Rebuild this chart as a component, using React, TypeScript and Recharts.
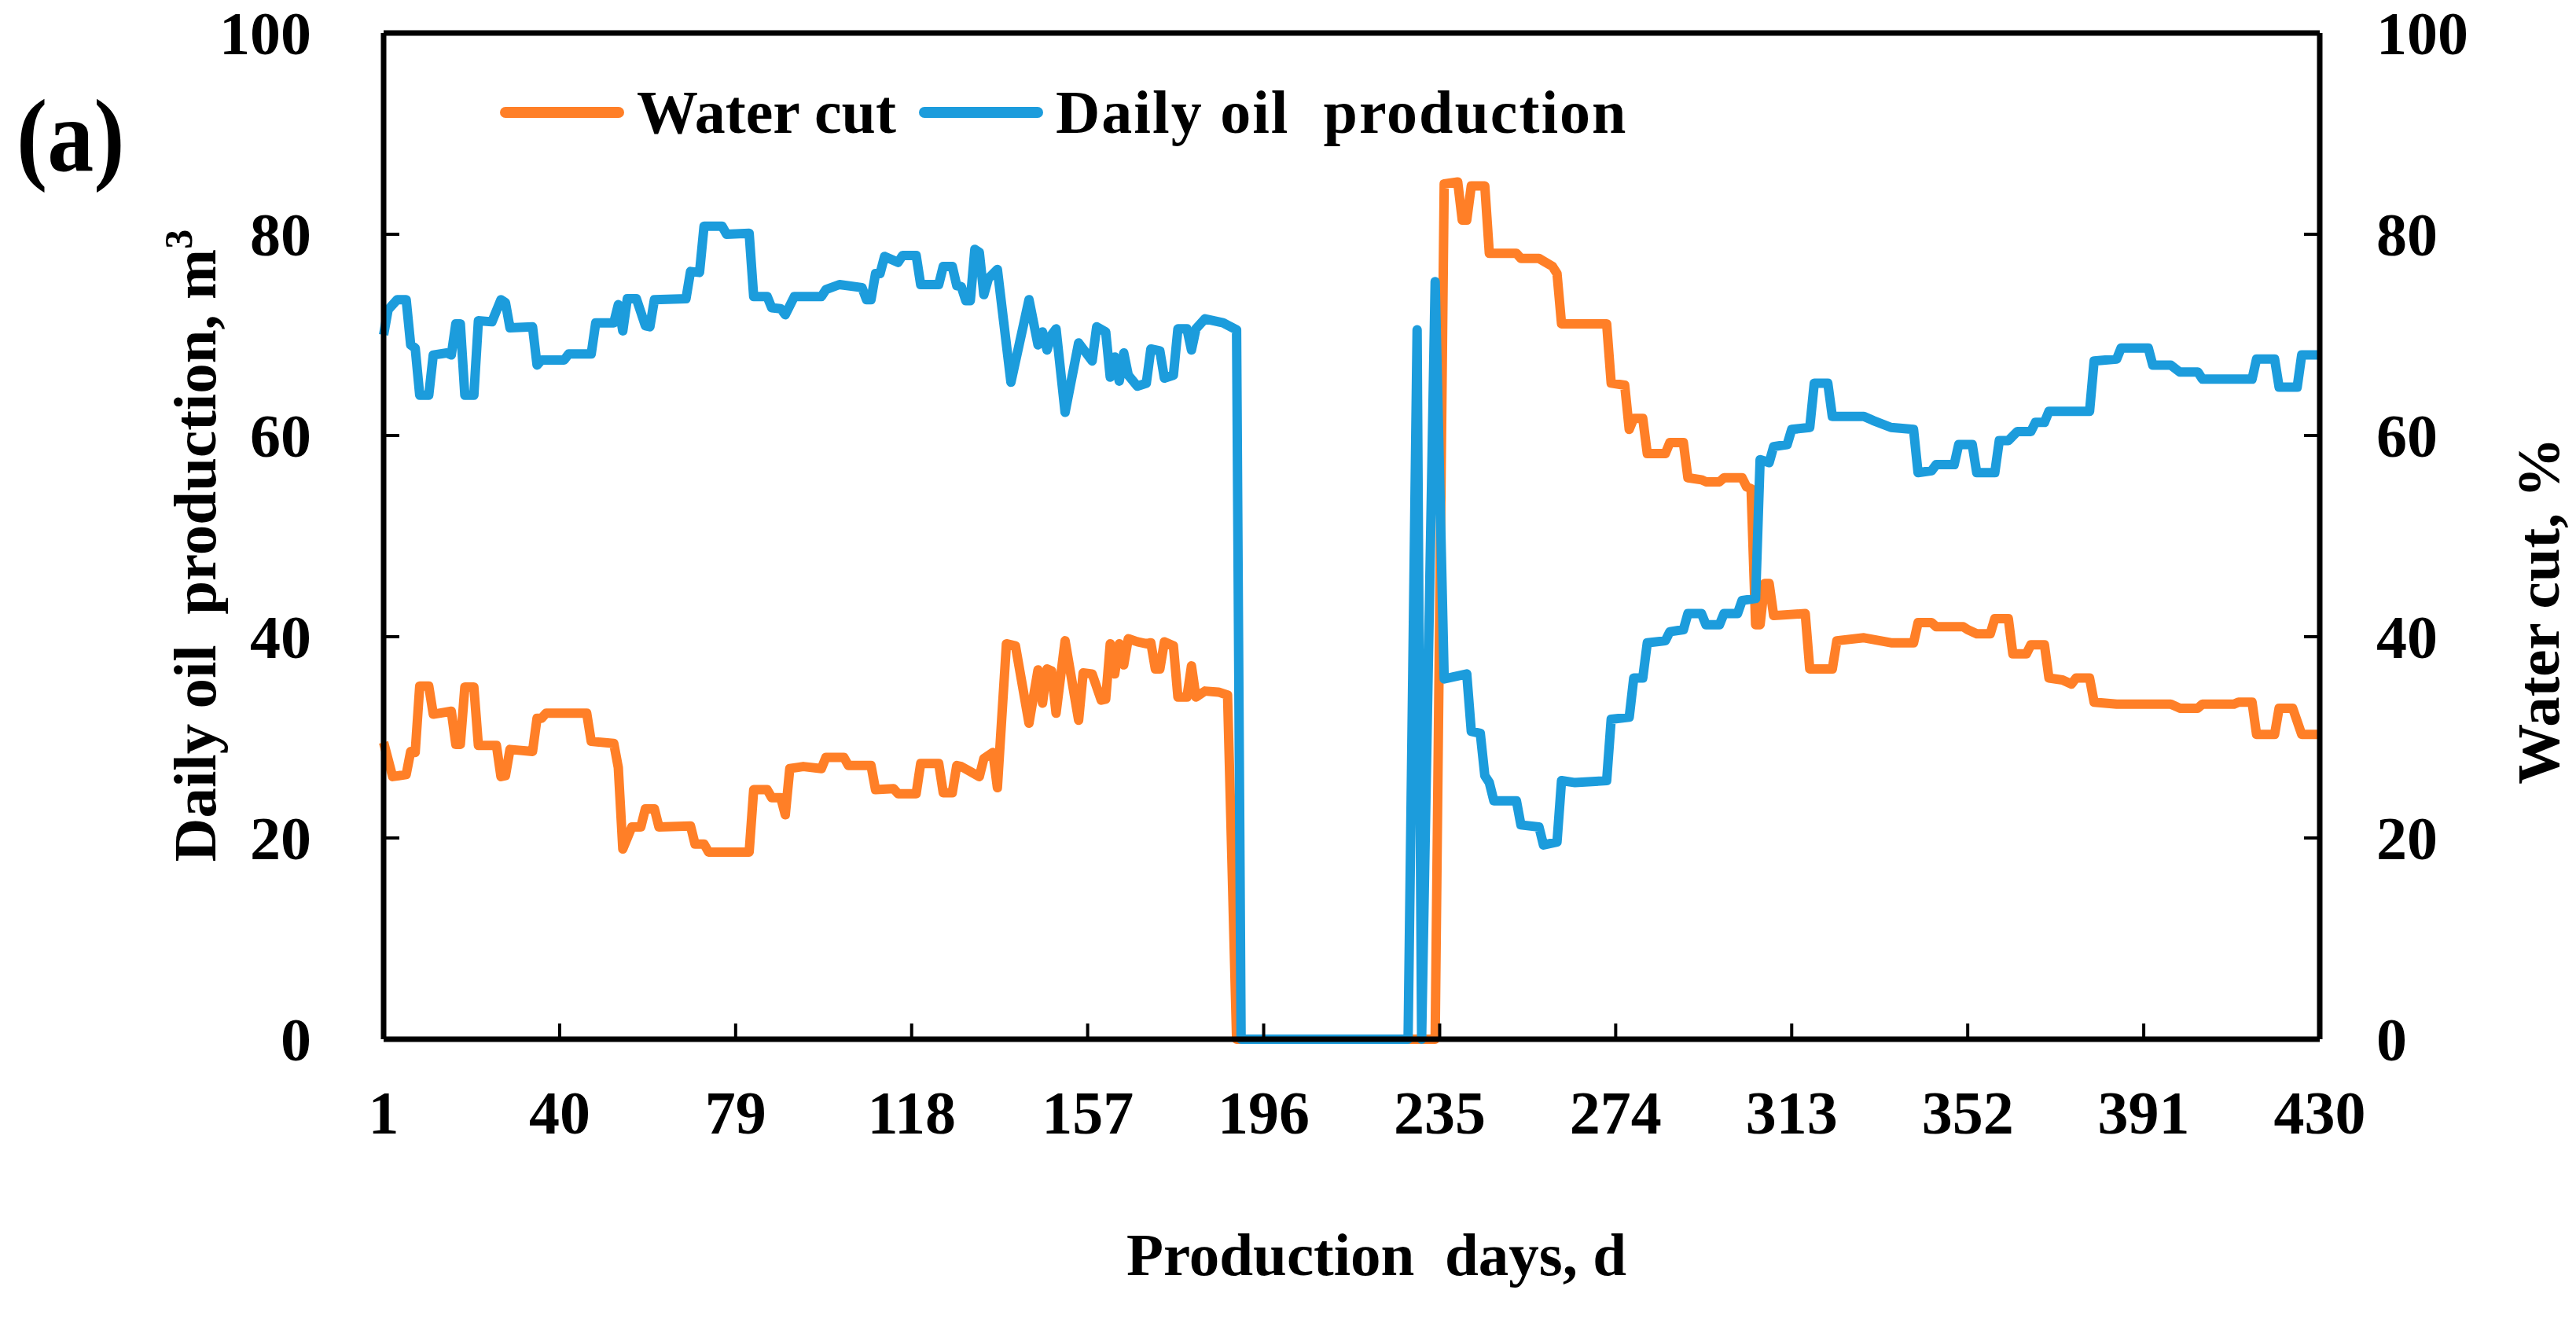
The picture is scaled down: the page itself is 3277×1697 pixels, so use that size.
import React from 'react';
import {
  LineChart,
  Line,
  XAxis,
  YAxis,
  Legend,
  ReferenceLine,
  Label,
} from 'recharts';

// Daily oil production, m3 (day, value)
const oilDays = [
  1, 2, 4, 6, 7, 8, 9, 11, 12, 15, 16, 17, 18, 19, 21, 22, 25, 27, 28, 29,
  34, 35, 36, 41, 42, 47, 48, 52, 53, 54, 55, 57, 59, 60, 61, 68, 69, 71, 72, 76,
  77, 82, 83, 86, 87, 89, 90, 92, 98, 99, 102, 107, 108, 109, 110, 111, 112, 115, 116, 119,
  120, 124, 125, 127, 128, 129, 130, 131, 132, 133, 134, 135, 137, 140, 144, 146, 147, 148, 149, 150,
  152, 155, 158, 159, 161, 162, 163, 164, 165, 166, 168, 170, 171, 173, 174, 176, 177, 179, 180, 181,
  183, 185, 187, 190, 191, 228, 230, 231, 234, 236, 238, 241, 242, 244, 245, 246, 247, 252, 253, 257,
  258, 261, 262, 265, 272, 273, 277, 278, 280, 281, 285, 286, 289, 290, 293, 294, 297, 298, 301, 302,
  305, 306, 308, 309, 312, 313, 317, 318, 321, 322, 329, 331, 335, 340, 341, 344, 345, 349, 350, 353,
  354, 358, 359, 361, 363, 366, 367, 369, 370, 379, 380, 385, 386, 392, 393, 397, 399, 403, 404, 415,
  416, 420, 421, 425, 426, 430,
];
const oilValues = [
  70, 72.5, 73.5, 73.5, 69, 68.7, 64, 64, 68, 68.2, 68, 71.1, 71.1, 64, 64, 71.4, 71.3, 73.5, 73.2, 70.7,
  70.8, 67, 67.5, 67.5, 68.1, 68.1, 71.2, 71.2, 73, 70.4, 73.6, 73.6, 70.9, 70.8, 73.5, 73.6, 76.3, 76.2, 80.8, 80.8,
  80, 80.1, 73.8, 73.8, 72.7, 72.6, 72, 73.8, 73.8, 74.5, 75, 74.7, 73.5, 73.5, 76.1, 76.1, 77.8, 77.2, 77.9, 77.9,
  75, 75, 76.8, 76.8, 74.9, 74.8, 73.4, 73.4, 78.5, 78.2, 74, 75.6, 76.5, 65.3, 73.5, 69, 70.3, 68.5, 70, 70.6,
  62.3, 69.2, 67.4, 70.8, 70.3, 65.8, 67.8, 65.4, 68.2, 66, 64.9, 65.2, 68.6, 68.4, 65.7, 66, 70.6, 70.6, 68.5, 70.6,
  71.6, 71.4, 71.2, 70.5, 0, 0, 70.5, 0, 75.3, 35.8, 36, 36.3, 30.6, 30.4, 26.2, 25.5, 23.7, 23.7, 21.3, 21.1,
  19.3, 19.6, 25.7, 25.5, 25.7, 31.8, 32, 35.9, 35.9, 39.4, 39.6, 40.5, 40.7, 42.3, 42.3, 41.2, 41.2, 42.3, 42.3, 43.6,
  43.8, 57.6, 57.3, 58.9, 59.1, 60.6, 60.8, 65.2, 65.2, 61.9, 61.9, 61.5, 60.8, 60.6, 56.3, 56.5, 57.1, 57.1, 59.1, 59.1,
  56.3, 56.3, 59.5, 59.5, 60.4, 60.4, 61.3, 61.3, 62.4, 62.4, 67.4, 67.6, 68.7, 68.7, 67, 67, 66.3, 66.3, 65.6, 65.6,
  67.6, 67.6, 64.8, 64.8, 68, 68,
];

// Water cut, %
const waterDays = [
  1, 3, 6, 7, 8, 9, 11, 12, 16, 17, 18, 19, 21, 22, 26, 27, 28, 29, 34, 35,
  36, 37, 46, 47, 52, 53, 54, 56, 58, 59, 61, 62, 69, 70, 72, 73, 82, 83, 86, 87,
  89, 90, 91, 94, 98, 99, 103, 104, 109, 110, 114, 115, 119, 120, 124, 125, 127, 128, 129, 131,
  133, 134, 136, 137, 139, 141, 144, 146, 147, 148, 149, 150, 152, 155, 156, 158, 160, 161, 162, 163,
  164, 165, 166, 168, 170, 171, 172, 173, 174, 176, 177, 179, 180, 181, 183, 186, 188, 190, 234, 236,
  239, 240, 241, 242, 245, 246, 252, 253, 257, 260, 261, 262, 272, 273, 276, 277, 278, 280, 281, 285,
  286, 289, 290, 293, 294, 297, 298, 302, 303, 304, 305, 306, 307, 308, 309, 316, 317, 322, 323, 329,
  335, 340, 341, 344, 345, 351, 352, 354, 357, 358, 361, 362, 365, 366, 369, 370, 373, 375, 376, 379,
  380, 385, 397, 399, 403, 404, 411, 412, 415, 416, 420, 421, 424, 426, 430,
];
const waterValues = [
  29.5, 26.1, 26.3, 28.6, 28.5, 35.1, 35.1, 32.3, 32.6, 29.3, 29.3, 35, 35, 29.2, 29.2, 26.1, 26.2, 28.8, 28.6, 31.9,
  31.9, 32.4, 32.4, 29.6, 29.4, 27, 18.9, 21.1, 21.1, 22.9, 22.9, 21.1, 21.2, 19.4, 19.4, 18.6, 18.6, 24.8, 24.8, 24,
  24, 22.3, 26.9, 27.1, 26.9, 28, 28, 27.2, 27.2, 24.8, 24.9, 24.4, 24.4, 27.4, 27.4, 24.5, 24.5, 27.2, 27.1, 26.6,
  26.1, 27.9, 28.5, 25, 39.3, 39.1, 31.4, 36.7, 33.4, 36.8, 36.6, 32.4, 39.6, 31.7, 36.4, 36.3, 33.7, 33.8, 39.3, 36.3,
  39.3, 37.2, 39.8, 39.5, 39.3, 39.4, 36.8, 36.8, 39.5, 39.1, 34, 34, 37.1, 34, 34.6, 34.5, 34.2, 0, 0, 85,
  85.2, 81.4, 81.4, 84.8, 84.8, 78.1, 78.1, 77.6, 77.6, 76.8, 76.1, 71.1, 71.1, 65.2, 65, 60.6, 61.7, 61.7, 58.2, 58.2,
  59.3, 59.3, 55.8, 55.6, 55.4, 55.4, 55.8, 55.8, 54.9, 54.7, 41.2, 41.2, 45.3, 45.3, 42.1, 42.3, 36.8, 36.8, 39.6, 39.9,
  39.4, 39.4, 41.4, 41.4, 41, 41, 40.7, 40.3, 40.3, 41.8, 41.8, 38.3, 38.3, 39.2, 39.2, 35.9, 35.7, 35.3, 35.9, 35.9,
  33.5, 33.3, 33.3, 32.9, 32.9, 33.3, 33.3, 33.5, 33.5, 30.3, 30.3, 32.9, 32.9, 30.3, 30.3,
];

const dayTicks = [1, 40, 79, 118, 157, 196, 235, 274, 313, 352, 391, 430];
const valueTicks = [0, 20, 40, 60, 80, 100];

const oilData = oilDays.map((day, i) => ({ day, oil: oilValues[i] }));
const waterData = waterDays.map((day, i) => ({ day, water: waterValues[i] }));

const ORANGE = '#FF7F27';
const BLUE = '#1C9CDC';
const FONT = "'Liberation Serif', 'Times New Roman', serif";
const TICK_SIZE = 78;

const LeftTick = ({ x, y, payload }: any) => (
  <g>
    <line x1={x} x2={x + 20} y1={y} y2={y} stroke="#000" strokeWidth={4} />
    <text x={x - 92} y={y + 27} textAnchor="end" fontFamily={FONT} fontWeight="bold" fontSize={TICK_SIZE} fill="#000">
      {payload.value}
    </text>
  </g>
);

const RightTick = ({ x, y, payload }: any) => (
  <g>
    <line x1={x} x2={x - 20} y1={y} y2={y} stroke="#000" strokeWidth={4} />
    <text x={x + 72} y={y + 27} textAnchor="start" fontFamily={FONT} fontWeight="bold" fontSize={TICK_SIZE} fill="#000">
      {payload.value}
    </text>
  </g>
);

const BottomTick = ({ x, y, payload }: any) => (
  <g>
    <line x1={x} x2={x} y1={y} y2={y - 20} stroke="#000" strokeWidth={4} />
    <text x={x} y={y + 120} textAnchor="middle" fontFamily={FONT} fontWeight="bold" fontSize={TICK_SIZE} fill="#000">
      {payload.value}
    </text>
  </g>
);

const legendItems = [
  { name: 'Water cut', color: ORANGE },
  { name: 'Daily oil  production', color: BLUE },
];

const renderLegend = () => (
  <div
    style={{
      display: 'flex',
      alignItems: 'center',
      fontFamily: FONT,
      fontWeight: 'bold',
      fontSize: 78,
      lineHeight: '78px',
      whiteSpace: 'pre',
      color: '#000',
    }}
  >
    {legendItems.map((item, i) => (
      <div key={item.name} style={{ display: 'flex', alignItems: 'center', marginLeft: i === 0 ? 0 : 28 }}>
        <svg width={160} height={22}>
          <line x1={8} x2={152} y1={11} y2={11} stroke={item.color} strokeWidth={14} strokeLinecap="round" />
        </svg>
        <span style={{ marginLeft: 15, letterSpacing: i === 0 ? 0 : 2 }}>{item.name}</span>
      </div>
    ))}
  </div>
);

const LeftTitle = ({ viewBox }: any) => {
  const cx = viewBox.x + 274;
  const cy = viewBox.y + viewBox.height / 2 + 12;
  return (
    <text
      x={cx}
      y={cy}
      transform={`rotate(-90 ${cx} ${cy})`}
      textAnchor="middle"
      fontFamily={FONT}
      fontWeight="bold"
      fontSize={77}
      fill="#000"
      style={{ whiteSpace: 'pre' }}
    >
      Daily oil  production, m
      <tspan dy={-30} fontSize={50}>3</tspan>
    </text>
  );
};

const RightTitle = ({ viewBox }: any) => {
  const cx = viewBox.x + 304;
  const cy = 777;
  return (
    <text
      x={cx}
      y={cy}
      transform={`rotate(-90 ${cx} ${cy})`}
      textAnchor="middle"
      fontFamily={FONT}
      fontWeight="bold"
      fontSize={77}
      fill="#000"
    >
      Water cut, %
    </text>
  );
};

const BottomTitle = ({ viewBox }: any) => (
  <text
    x={1751}
    y={viewBox.y + 300}
    textAnchor="middle"
    fontFamily={FONT}
    fontWeight="bold"
    fontSize={77}
    fill="#000"
    style={{ whiteSpace: 'pre' }}
  >
    Production  days, d
  </text>
);

export default function App() {
  return (
    <div style={{ position: 'absolute', left: 0, top: 0, width: 3277, height: 1697, background: '#fff' }}>
      <LineChart width={3277} height={1697} margin={{ top: 42, right: 0, bottom: 0, left: 0 }}>
        <XAxis
          dataKey="day"
          type="number"
          domain={[1, 430]}
          ticks={dayTicks}
          interval={0}
          height={297}
          tickSize={0}
          tickMargin={0}
          tickLine={false}
          axisLine={{ stroke: '#000', strokeWidth: 7 }}
          tick={<BottomTick />}
        >
          <Label content={<BottomTitle />} />
        </XAxis>
        <YAxis
          yAxisId="oil"
          orientation="left"
          domain={[0, 100]}
          ticks={valueTicks}
          interval={0}
          width={488}
          tickSize={0}
          tickMargin={0}
          tickLine={false}
          axisLine={{ stroke: '#000', strokeWidth: 7 }}
          tick={<LeftTick />}
        >
          <Label content={<LeftTitle />} />
        </YAxis>
        <YAxis
          yAxisId="wc"
          orientation="right"
          domain={[0, 100]}
          ticks={valueTicks}
          interval={0}
          width={326}
          tickSize={0}
          tickMargin={0}
          tickLine={false}
          axisLine={{ stroke: '#000', strokeWidth: 7 }}
          tick={<RightTick />}
        >
          <Label content={<RightTitle />} />
        </YAxis>
        <ReferenceLine yAxisId="oil" y={100} stroke="#000" strokeWidth={7} />
        <Legend
          content={renderLegend}
          wrapperStyle={{ position: 'absolute', left: 635, top: 104, width: 'auto' }}
        />
        <Line
          yAxisId="wc"
          data={waterData}
          dataKey="water"
          type="linear"
          stroke={ORANGE}
          strokeWidth={12}
          strokeLinejoin="round"
          dot={false}
          activeDot={false}
          isAnimationActive={false}
        />
        <Line
          yAxisId="oil"
          data={oilData}
          dataKey="oil"
          type="linear"
          stroke={BLUE}
          strokeWidth={12}
          strokeLinejoin="round"
          dot={false}
          activeDot={false}
          isAnimationActive={false}
        />
      </LineChart>
      <div
        style={{
          position: 'absolute',
          left: 21,
          top: 107,
          fontFamily: FONT,
          fontWeight: 'bold',
          fontSize: 131,
          lineHeight: '131px',
          transform: 'scaleX(0.9)',
          transformOrigin: 'left top',
        }}
      >
        (a)
      </div>
    </div>
  );
}
